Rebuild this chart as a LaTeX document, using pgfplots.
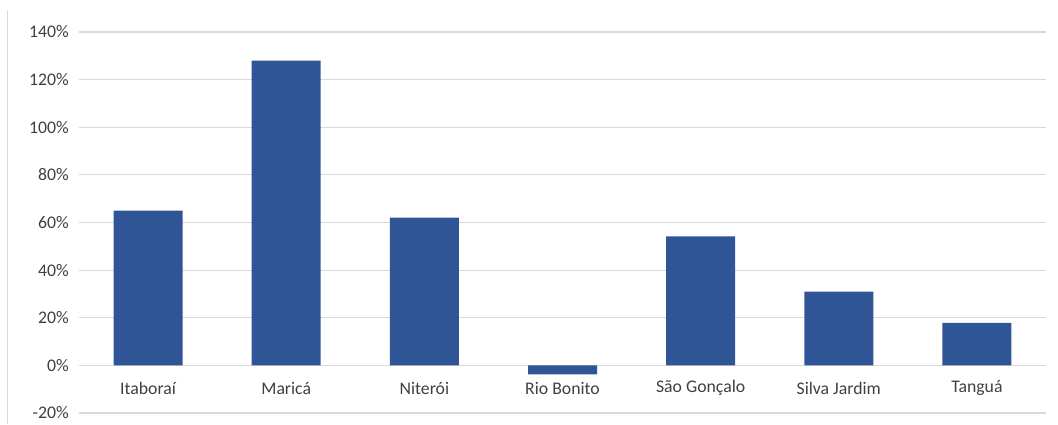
\documentclass[border=0pt]{standalone}
\usepackage{pgfplots}
\pgfplotsset{compat=1.18}
\usepackage{fontspec}
\setmainfont{Carlito}
\definecolor{barblue}{HTML}{2F5597}
\definecolor{gridgray}{HTML}{D9D9D9}
\definecolor{labelgray}{HTML}{404040}
\begin{document}
\begin{tikzpicture}
\begin{axis}[
  scale only axis,
  width=967bp, height=381bp,
  xmin=-0.5, xmax=6.5,
  ymin=-20, ymax=140,
  axis line style={draw=none},
  major tick length=0pt,
  xtick=data,
  xticklabels={Itaboraí,Maricá,Niterói,Rio Bonito,São Gonçalo,Silva Jardim,Tanguá},
  ytick={-20,0,20,40,60,80,100,120,140},
  yticklabels={-20\%,0\%,20\%,40\%,60\%,80\%,100\%,120\%,140\%},
  ymajorgrids,
  grid style={gridgray, line width=1.2bp},
  ticklabel style={font=\fontsize{17.8}{21}\selectfont, text=labelgray},
  yticklabel style={anchor=east, inner sep=0pt, xshift=-10bp},
  xticklabel style={anchor=center, inner sep=0pt, yshift=25bp},
  ybar, bar width=69bp,
]
\addplot[fill=barblue, draw=none] coordinates {
  (0,65) (1,128) (2,62) (3,-3.8) (4,54.2) (5,31) (6,17.9)
};
\end{axis}
\draw[gridgray, line width=1bp] ([xshift=-71bp]current axis.south west |- 0,-11bp) -- ([xshift=-71bp,yshift=22bp]current axis.north west);
\path[use as bounding box] ([xshift=-79bp,yshift=-11bp]current axis.south west) rectangle ([xshift=12bp,yshift=32bp]current axis.north east);
\end{tikzpicture}
\end{document}
